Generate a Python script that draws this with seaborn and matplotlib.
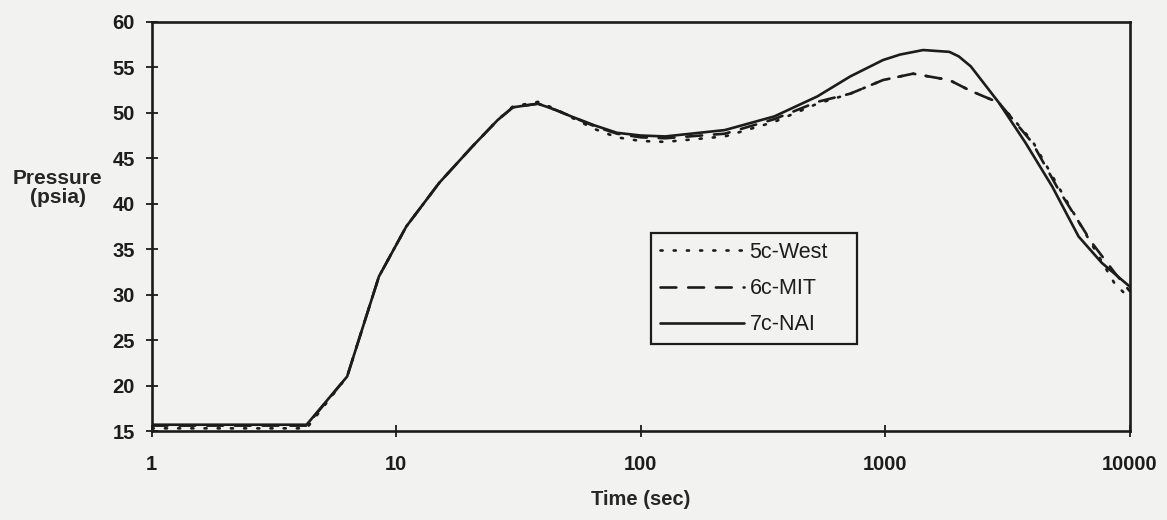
import matplotlib
matplotlib.use("Agg")
import matplotlib.pyplot as plt
import pandas as pd
import seaborn as sns


COLOR_BG = "#f2f2f0"
COLOR_INK = "#1c1c1c"

# 5c-West (dotted)
WEST_TIME = [1, 4.3, 6.3, 8.5, 11, 15, 20.5, 26, 30, 38, 45, 52, 65, 80, 100, 126, 221,
             352, 528, 720, 980, 1300, 1830, 2240, 2920, 4000, 5130, 7010, 8690, 10000]
WEST_PSIA = [15.3, 15.3, 21.0, 32.0, 37.5, 42.3, 46.3, 49.2, 50.7, 51.2, 50.4, 49.5, 48.2,
             47.3, 46.9, 46.8, 47.4, 49.0, 51.0, 52.1, 53.6, 54.3, 53.6, 52.4, 51.1, 46.9,
             41.8, 35.5, 31.2, 29.6]

# 6c-MIT (dashed)
MIT_TIME = [1, 4.3, 6.3, 8.5, 11, 15, 20.5, 26, 30, 38, 45, 52, 65, 80, 100, 126, 221,
            352, 528, 720, 980, 1300, 1830, 2240, 2920, 4000, 5130, 7010, 8690, 10000]
MIT_PSIA = [15.6, 15.6, 21.0, 32.0, 37.5, 42.3, 46.3, 49.2, 50.6, 51.0, 50.3, 49.6, 48.5,
            47.7, 47.3, 47.2, 47.7, 49.3, 51.2, 52.1, 53.6, 54.3, 53.6, 52.4, 51.1, 46.7,
            41.5, 35.7, 32.4, 30.4]

# 7c-NAI (solid)
NAI_TIME = [1, 4.3, 6.3, 8.5, 11, 15, 20.5, 26, 30, 38, 45, 52, 65, 80, 100, 126, 221,
            352, 528, 720, 980, 1150, 1430, 1830, 2000, 2240, 2920, 3750, 4820, 6180, 7690,
            10000]
NAI_PSIA = [15.7, 15.7, 21.0, 32.0, 37.5, 42.3, 46.3, 49.2, 50.6, 51.0, 50.3, 49.6, 48.6,
            47.8, 47.5, 47.4, 48.1, 49.6, 51.8, 54.0, 55.8, 56.4, 56.9, 56.7, 56.2, 55.1,
            51.1, 46.7, 41.9, 36.4, 33.5, 30.9]

SERIES = ["5c-West", "6c-MIT", "7c-NAI"]
Y_TICKS = [15, 20, 25, 30, 35, 40, 45, 50, 55, 60]
X_TICKS = [1, 10, 100, 1000, 10000]


def build_frame():
    parts = []
    for name, t, p in zip(SERIES, [WEST_TIME, MIT_TIME, NAI_TIME],
                          [WEST_PSIA, MIT_PSIA, NAI_PSIA]):
        parts.append(pd.DataFrame({"time": t, "psia": p, "run": name}))
    return pd.concat(parts, ignore_index=True)


def main():
    data = build_frame()

    sns.set_theme(style="white", rc={
        "axes.facecolor": COLOR_BG,
        "figure.facecolor": COLOR_BG,
        "axes.edgecolor": COLOR_INK,
        "text.color": COLOR_INK,
    })
    plt.rcParams["font.family"] = ["Liberation Sans", "DejaVu Sans"]

    fig, ax = plt.subplots(figsize=(11.67, 5.2), dpi=100)
    fig.subplots_adjust(left=0.130, right=0.968, top=0.958, bottom=0.171)

    dashes = {"5c-West": (0.8, 4.2), "6c-MIT": (6, 4.5), "7c-NAI": ""}
    sns.lineplot(data=data, x="time", y="psia", hue="run", style="run",
                 palette={s: COLOR_INK for s in SERIES}, dashes=dashes,
                 estimator=None, sort=False, linewidth=1.9, ax=ax, legend=True)

    for line in ax.get_lines():
        line.set_dash_capstyle("round")
        line.set_solid_joinstyle("round")

    ax.set_xscale("log")
    ax.set_xlim(1, 10000)
    ax.set_ylim(15, 60)
    ax.set_xticks(X_TICKS)
    ax.set_xticklabels([str(x) for x in X_TICKS])
    ax.minorticks_off()
    ax.set_yticks(Y_TICKS)

    ax.tick_params(axis="both", direction="inout", length=8, width=1.3,
                   colors=COLOR_INK, labelsize=14.5, bottom=True, left=True)
    ax.tick_params(axis="x", pad=13)
    ax.tick_params(axis="y", pad=8)
    for lab in ax.get_xticklabels() + ax.get_yticklabels():
        lab.set_fontweight("bold")

    for spine in ax.spines.values():
        spine.set_visible(True)
        spine.set_linewidth(1.9)
        spine.set_color(COLOR_INK)

    ax.set_xlabel("Time (sec)", fontsize=14.5, fontweight="bold", labelpad=12)
    ax.set_ylabel("Pressure\n(psia)", fontsize=15, fontweight="bold",
                  rotation=0, ha="center", va="center", linespacing=1.05)
    ax.yaxis.set_label_coords(-0.096, 0.594)

    handles, labels = ax.get_legend_handles_labels()
    leg = ax.legend(handles, labels, loc="upper left",
                    bbox_to_anchor=(0.511, 0.218, 0.210, 0.265), mode="expand",
                    frameon=True, fancybox=False, framealpha=1, fontsize=15.5,
                    handlelength=3.9, handletextpad=0.25, borderpad=0.4,
                    labelspacing=0.7, borderaxespad=0)
    leg.get_frame().set_edgecolor(COLOR_INK)
    leg.get_frame().set_linewidth(1.6)
    leg.get_frame().set_facecolor(COLOR_BG)
    for line in leg.get_lines():
        line.set_linewidth(1.9)
        line.set_dash_capstyle("round")

    fig.savefig("out.png", dpi=100, facecolor=COLOR_BG)
    plt.close(fig)


if __name__ == "__main__":
    main()
